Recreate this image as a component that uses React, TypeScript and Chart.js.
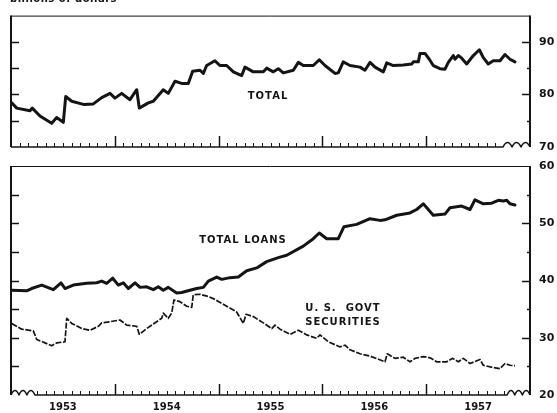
import React, { useEffect, useRef } from "react";
import { Chart, registerables } from "chart.js";

Chart.register(...registerables);

// ---------- DATA (decimal years, billions of dollars) ----------
const totalDates = [1953.007, 1953.055, 1953.183, 1953.205, 1953.279, 1953.392, 1953.44, 1953.504, 1953.527, 1953.585, 1953.697, 1953.793, 1953.874, 1953.954, 1954.002, 1954.066, 1954.146, 1954.211, 1954.236, 1954.323, 1954.371, 1954.467, 1954.515, 1954.58, 1954.644, 1954.708, 1954.75, 1954.821, 1954.853, 1954.885, 1954.965, 1955.013, 1955.078, 1955.142, 1955.223, 1955.254, 1955.334, 1955.431, 1955.463, 1955.527, 1955.575, 1955.623, 1955.72, 1955.768, 1955.816, 1955.912, 1955.97, 1956.025, 1956.121, 1956.153, 1956.201, 1956.266, 1956.362, 1956.41, 1956.459, 1956.507, 1956.587, 1956.62, 1956.683, 1956.779, 1956.86, 1956.876, 1956.924, 1956.94, 1956.988, 1957.03, 1957.068, 1957.133, 1957.181, 1957.213, 1957.261, 1957.277, 1957.309, 1957.342, 1957.39, 1957.454, 1957.512, 1957.55, 1957.598, 1957.646, 1957.711, 1957.759, 1957.807, 1957.855];
const totalValues = [78.4, 77.4, 76.9, 77.4, 75.9, 74.5, 75.6, 74.7, 79.6, 78.7, 78.1, 78.2, 79.4, 80.2, 79.3, 80.2, 79.0, 80.9, 77.4, 78.4, 78.7, 80.9, 80.2, 82.5, 82.1, 82.1, 84.4, 84.6, 84.0, 85.5, 86.4, 85.5, 85.5, 84.3, 83.6, 85.2, 84.3, 84.3, 85.0, 84.3, 84.9, 84.1, 84.6, 86.1, 85.5, 85.5, 86.6, 85.5, 84.0, 84.1, 86.2, 85.5, 85.2, 84.6, 86.1, 85.2, 84.3, 86.0, 85.5, 85.6, 85.8, 86.2, 86.2, 87.8, 87.8, 86.7, 85.5, 84.9, 84.8, 86.1, 87.4, 86.7, 87.4, 86.9, 85.8, 87.4, 88.5, 87.0, 85.8, 86.4, 86.4, 87.6, 86.7, 86.2];

const loansDates = [1953.007, 1953.151, 1953.199, 1953.296, 1953.408, 1953.482, 1953.52, 1953.6, 1953.729, 1953.826, 1953.874, 1953.922, 1953.98, 1954.034, 1954.082, 1954.13, 1954.195, 1954.243, 1954.307, 1954.371, 1954.419, 1954.467, 1954.515, 1954.596, 1954.644, 1954.724, 1954.789, 1954.853, 1954.901, 1954.982, 1955.03, 1955.11, 1955.19, 1955.271, 1955.367, 1955.463, 1955.575, 1955.656, 1955.816, 1955.912, 1955.97, 1956.041, 1956.153, 1956.208, 1956.33, 1956.459, 1956.555, 1956.603, 1956.716, 1956.844, 1956.908, 1956.972, 1957.02, 1957.068, 1957.181, 1957.229, 1957.294, 1957.342, 1957.422, 1957.47, 1957.55, 1957.631, 1957.695, 1957.743, 1957.776, 1957.807, 1957.855];
const loansValues = [38.3, 38.2, 38.6, 39.2, 38.4, 39.6, 38.6, 39.2, 39.5, 39.6, 39.9, 39.5, 40.4, 39.2, 39.6, 38.6, 39.6, 38.8, 38.9, 38.4, 38.9, 38.3, 38.8, 37.8, 37.9, 38.3, 38.6, 38.8, 39.9, 40.6, 40.2, 40.5, 40.6, 41.7, 42.2, 43.3, 44.0, 44.4, 46.0, 47.3, 48.3, 47.3, 47.3, 49.4, 49.8, 50.8, 50.5, 50.6, 51.4, 51.8, 52.4, 53.4, 52.4, 51.4, 51.6, 52.7, 52.9, 53.0, 52.4, 54.1, 53.4, 53.5, 54.0, 53.9, 54.0, 53.4, 53.2];

const govtDates = [1953.007, 1953.103, 1953.215, 1953.248, 1953.328, 1953.392, 1953.44, 1953.52, 1953.537, 1953.585, 1953.681, 1953.761, 1953.841, 1953.874, 1953.954, 1954.05, 1954.115, 1954.211, 1954.236, 1954.307, 1954.371, 1954.452, 1954.467, 1954.515, 1954.548, 1954.57, 1954.628, 1954.693, 1954.741, 1954.756, 1954.821, 1954.901, 1954.965, 1955.078, 1955.174, 1955.238, 1955.264, 1955.334, 1955.431, 1955.512, 1955.543, 1955.592, 1955.688, 1955.768, 1955.849, 1955.945, 1955.977, 1956.057, 1956.17, 1956.218, 1956.266, 1956.362, 1956.459, 1956.603, 1956.625, 1956.699, 1956.779, 1956.844, 1956.892, 1956.972, 1957.037, 1957.101, 1957.198, 1957.255, 1957.309, 1957.358, 1957.422, 1957.518, 1957.55, 1957.646, 1957.711, 1957.759, 1957.807, 1957.855];
const govtValues = [32.5, 31.5, 31.2, 29.7, 29.1, 28.6, 29.1, 29.3, 33.4, 32.5, 31.6, 31.3, 32.0, 32.6, 32.8, 33.1, 32.2, 32.0, 30.6, 31.6, 32.4, 33.4, 34.3, 33.4, 34.3, 36.6, 36.3, 35.5, 35.3, 37.5, 37.6, 37.2, 36.7, 35.5, 34.5, 32.5, 34.1, 33.7, 32.6, 31.6, 32.2, 31.5, 30.6, 31.3, 30.5, 29.9, 30.5, 29.3, 28.4, 28.7, 27.9, 27.2, 26.8, 25.8, 27.2, 26.4, 26.6, 25.8, 26.4, 26.7, 26.5, 25.8, 25.8, 26.4, 25.8, 26.4, 25.5, 26.2, 25.2, 24.8, 24.6, 25.5, 25.2, 25.1];

const yearLabels = ["1953", "1954", "1955", "1956", "1957"];
const topTickValues = [70, 80, 90];
const bottomTickValues = [20, 30, 40, 50, 60];
const unitLabel = "billions of dollars";
const seriesLabels = { total: "TOTAL", loans: "TOTAL LOANS", govt1: "U. S.  GOVT", govt2: "SECURITIES" };

// ---------- STYLE ----------
const FONT = "'DejaVu Sans', sans-serif";
const INK = "#141414";
const X_MIN = 1953;
const X_MAX = 1958;

function pts(xs: number[], ys: number[]) {
  return xs.map((x, i) => ({ x, y: ys[i] }));
}

function squiggle(ctx: CanvasRenderingContext2D, x0: number, x1: number, yb: number, humps: number, amp: number) {
  const w = (x1 - x0) / humps;
  for (let i = 0; i < humps; i++) {
    const xs = x0 + i * w;
    ctx.quadraticCurveTo(xs + w * 0.5, yb - amp * 2, xs + w, yb);
  }
}

function framePlugin(kind: "top" | "bottom") {
  return {
    id: "frame-" + kind,
    beforeDatasetsDraw(chart: any) {
      const { ctx, chartArea: a, scales } = chart;
      const x = scales.x;
      const y = scales.y;
      ctx.save();
      ctx.strokeStyle = INK;
      // top thin rule
      ctx.lineWidth = 1;
      ctx.beginPath();
      ctx.moveTo(a.left, a.top + 0.5);
      ctx.lineTo(a.right, a.top + 0.5);
      ctx.stroke();
      // side rules
      ctx.lineWidth = 2;
      ctx.beginPath();
      ctx.moveTo(a.left, a.top);
      ctx.lineTo(a.left, a.bottom);
      ctx.moveTo(a.right, a.top);
      ctx.lineTo(a.right, a.bottom);
      ctx.stroke();
      // bottom rule with break marks
      const yb = a.bottom;
      const sqL = kind === "bottom" ? x.getPixelForValue(1953.23) : a.left;
      const sqR = x.getPixelForValue(kind === "bottom" ? 1957.78 : 1957.74);
      ctx.lineWidth = 1.5;
      ctx.lineJoin = "round";
      ctx.beginPath();
      ctx.moveTo(a.left, yb);
      if (kind === "bottom") squiggle(ctx, a.left, sqL, yb, 3, 4.5);
      ctx.lineTo(sqR, yb);
      squiggle(ctx, sqR, a.right, yb, 3, 4.5);
      ctx.stroke();
      // month / year ticks
      for (let m = 1; m < 60; m++) {
        const px = Math.round(x.getPixelForValue(X_MIN + m / 12)) + 0.5;
        if (px < sqL + 1 || px > sqR - 1) continue;
        const major = m % 12 === 0;
        ctx.lineWidth = major ? 1.5 : 1;
        ctx.beginPath();
        ctx.moveTo(px, yb);
        ctx.lineTo(px, yb - (major ? 11 : 4));
        ctx.stroke();
      }
      // y ticks (inward)
      ctx.lineWidth = 1.5;
      for (let v = y.min + 5; v < y.max; v += 5) {
        const py = Math.round(y.getPixelForValue(v)) + 0.5;
        ctx.beginPath();
        ctx.moveTo(a.left, py);
        ctx.lineTo(a.left + 8, py);
        ctx.moveTo(a.right, py);
        ctx.lineTo(a.right - (v % 10 === 0 ? 8 : 3), py);
        ctx.stroke();
      }
      ctx.restore();
    },
    afterDatasetsDraw(chart: any) {
      const { ctx, scales } = chart;
      const x = scales.x;
      const y = scales.y;
      ctx.save();
      ctx.fillStyle = INK;
      ctx.font = `bold 10px ${FONT}`;
      (ctx as any).letterSpacing = "1px";
      ctx.textAlign = "center";
      ctx.textBaseline = "middle";
      if (kind === "top") {
        ctx.fillText(seriesLabels.total, x.getPixelForValue(1955.476), y.getPixelForValue(79.6));
        (ctx as any).letterSpacing = "0.5px";
        ctx.textAlign = "left";
        ctx.textBaseline = "alphabetic";
        ctx.fillText(unitLabel, 10, 2);
      } else {
        ctx.fillText(seriesLabels.loans, x.getPixelForValue(1955.235), y.getPixelForValue(47.05));
        ctx.fillText(seriesLabels.govt1, x.getPixelForValue(1956.198), y.getPixelForValue(35.2));
        ctx.fillText(seriesLabels.govt2, x.getPixelForValue(1956.198), y.getPixelForValue(32.6));
      }
      ctx.restore();
    },
  };
}

function yAxis(min: number, max: number, ticks: number[]) {
  return {
    type: "linear",
    position: "right",
    min,
    max,
    afterFit(s: any) {
      s.width = 27;
    },
    afterBuildTicks(s: any) {
      s.ticks = ticks.map((v) => ({ value: v }));
    },
    grid: { display: false, drawTicks: false },
    border: { display: false },
    ticks: {
      padding: 9,
      color: INK,
      font: { family: FONT, size: 11, weight: "bold" },
      callback: (v: any) => String(v),
    },
  };
}

function makeConfig(kind: "top" | "bottom"): any {
  const lineBase = { pointRadius: 0, tension: 0, borderColor: INK, borderJoinStyle: "round", borderCapStyle: "round", fill: false };
  const datasets =
    kind === "top"
      ? [{ ...lineBase, label: "TOTAL", data: pts(totalDates, totalValues), borderWidth: 3 }]
      : [
          { ...lineBase, label: "TOTAL LOANS", data: pts(loansDates, loansValues), borderWidth: 3 },
          { ...lineBase, label: "U. S. GOVT SECURITIES", data: pts(govtDates, govtValues), borderWidth: 1.7, borderDash: [6, 1.6], borderCapStyle: "butt" },
        ];
  const xScale: any =
    kind === "top"
      ? { type: "linear", min: X_MIN, max: X_MAX, display: false }
      : {
          type: "linear",
          min: X_MIN,
          max: X_MAX,
          afterFit(s: any) {
            s.height = 18;
          },
          afterBuildTicks(s: any) {
            s.ticks = yearLabels.map((_, i) => ({ value: X_MIN + i + 0.5 }));
          },
          grid: { display: false, drawTicks: false },
          border: { display: false },
          ticks: {
            padding: 6,
            color: INK,
            maxRotation: 0,
            autoSkip: false,
            font: { family: FONT, size: 10, weight: "bold" },
            callback: (v: any) => yearLabels[Math.floor(v) - X_MIN],
          },
        };
  return {
    type: "line",
    data: { datasets },
    options: {
      animation: false,
      responsive: false,
      devicePixelRatio: 1,
      layout: { padding: kind === "top" ? { left: 11, top: 10, right: 0, bottom: 266 } : { left: 11, top: 166, right: 0, bottom: 0 } },
      plugins: { legend: { display: false }, tooltip: { enabled: false } },
      scales: {
        x: xScale,
        y: kind === "top" ? yAxis(70, 95, topTickValues) : yAxis(20, 60, bottomTickValues),
      },
    },
    plugins: [framePlugin(kind)],
  };
}

export default function App() {
  const topRef = useRef<HTMLCanvasElement>(null);
  const botRef = useRef<HTMLCanvasElement>(null);
  useEffect(() => {
    const c1 = new Chart(topRef.current as HTMLCanvasElement, makeConfig("top"));
    const c2 = new Chart(botRef.current as HTMLCanvasElement, makeConfig("bottom"));
    return () => {
      c1.destroy();
      c2.destroy();
    };
  }, []);
  const cs: React.CSSProperties = { position: "absolute", left: 0, top: 0, width: 557, height: 413 };
  return (
    <div style={{ position: "absolute", left: 0, top: 0, width: 557, height: 413, background: "#fff", overflow: "hidden" }}>
      <canvas ref={topRef} width={557} height={413} style={cs} />
      <canvas ref={botRef} width={557} height={413} style={cs} />
    </div>
  );
}
